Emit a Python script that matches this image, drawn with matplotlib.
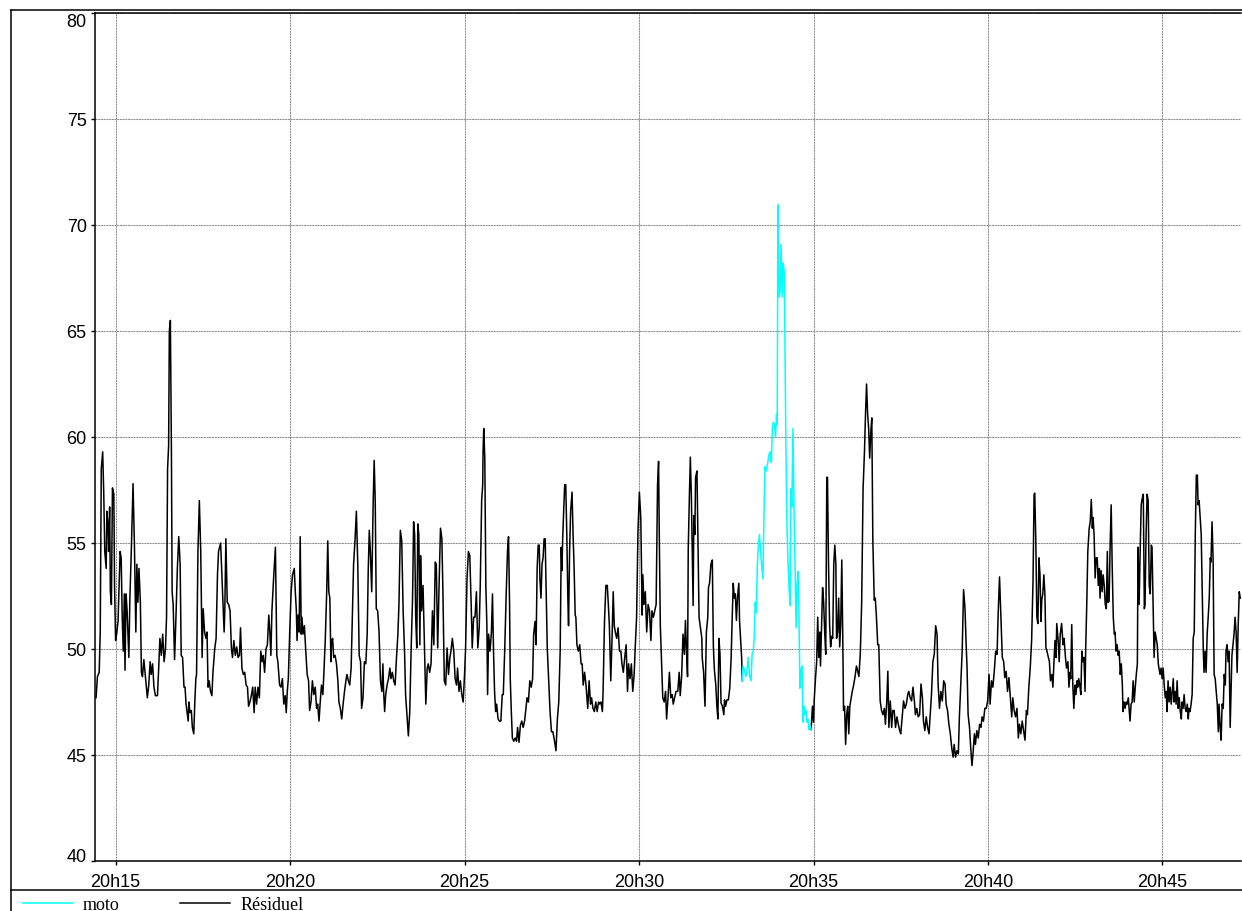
import numpy as np
import matplotlib
matplotlib.use("Agg")
import matplotlib.pyplot as plt
from matplotlib.lines import Line2D
from matplotlib.ticker import FuncFormatter, MultipleLocator

plt.rcParams['font.family'] = ['Liberation Sans', 'DejaVu Sans']

# time in minutes after 20h00, level in dB(A)
# residual noise before the motorbike pass
t_res_a = [
    14.44, 14.48, 14.53, 14.56, 14.59, 14.63, 14.66, 14.69, 14.73, 14.75,
    14.78, 14.80, 14.83, 14.85, 14.88, 14.91, 14.95, 14.97, 15.00, 15.03,
    15.07, 15.13, 15.16, 15.19, 15.22, 15.25, 15.27, 15.30, 15.33, 15.36,
    15.38, 15.41, 15.45, 15.50, 15.54, 15.58, 15.61, 15.64, 15.67, 15.71,
    15.74, 15.77, 15.81, 15.85, 15.91, 15.95, 15.99, 16.02, 16.06, 16.10,
    16.14, 16.20, 16.23, 16.27, 16.31, 16.35, 16.39, 16.43, 16.46, 16.49,
    16.52, 16.54, 16.57, 16.60, 16.62, 16.65, 16.69, 16.73, 16.77, 16.81,
    16.85, 16.88, 16.92, 16.96, 16.99, 17.02, 17.05, 17.08, 17.10, 17.13,
    17.17, 17.20, 17.24, 17.27, 17.30, 17.32, 17.36, 17.40, 17.44, 17.48,
    17.51, 17.55, 17.59, 17.62, 17.65, 17.68, 17.72, 17.76, 17.79, 17.84,
    17.88, 17.92, 17.95, 18.01, 18.05, 18.08, 18.11, 18.13, 18.16, 18.20,
    18.24, 18.28, 18.32, 18.35, 18.39, 18.43, 18.47, 18.51, 18.55, 18.58,
    18.62, 18.66, 18.70, 18.74, 18.78, 18.81, 18.85, 18.89, 18.93, 18.97,
    19.00, 19.04, 19.08, 19.12, 19.16, 19.20, 19.23, 19.27, 19.31, 19.35,
    19.39, 19.42, 19.45, 19.48, 19.51, 19.54, 19.58, 19.62, 19.65, 19.70,
    19.74, 19.78, 19.82, 19.86, 19.89, 19.92,
    19.95, 19.99, 20.03, 20.07, 20.12, 20.15, 20.18, 20.20, 20.23, 20.26,
    20.29, 20.32, 20.34, 20.37, 20.41, 20.45, 20.49, 20.53, 20.56, 20.60,
    20.64, 20.68, 20.72, 20.76, 20.79, 20.83, 20.86, 20.90, 20.94, 20.97,
    21.01, 21.05, 21.08, 21.11, 21.14, 21.17, 21.19, 21.22, 21.25, 21.29,
    21.33, 21.37, 21.40, 21.44, 21.48, 21.52, 21.56, 21.60, 21.63, 21.67,
    21.71, 21.75, 21.79, 21.82, 21.86, 21.90, 21.94, 21.98, 22.02, 22.05,
    22.09, 22.13, 22.17, 22.21, 22.24, 22.27, 22.30, 22.34, 22.38, 22.41,
    22.44, 22.47, 22.51, 22.55, 22.59, 22.63, 22.66, 22.68, 22.71, 22.74,
    22.78, 22.82, 22.86, 22.89, 22.93, 22.97, 23.01, 23.05, 23.09, 23.12,
    23.16, 23.20, 23.24, 23.28, 23.31, 23.35, 23.39, 23.43, 23.47, 23.51,
    23.54, 23.57, 23.60, 23.63, 23.66, 23.69, 23.72, 23.74, 23.77, 23.81,
    23.85, 23.89, 23.93, 23.96, 24.00, 24.04, 24.08, 24.12, 24.16, 24.19,
    24.23, 24.27, 24.31, 24.35, 24.38, 24.42, 24.46, 24.50, 24.54, 24.58,
    24.61, 24.65, 24.69, 24.73, 24.77, 24.80, 24.84, 24.88, 24.92, 24.96,
    25.00, 25.03, 25.07, 25.11, 25.15, 25.19, 25.22, 25.26, 25.30, 25.34,
    25.38, 25.42, 25.45, 25.49, 25.52,
    25.53, 25.55, 25.58, 25.61, 25.64, 25.66, 25.69, 25.73, 25.77, 25.80,
    25.83, 25.86, 25.89, 25.92, 25.96, 26.00, 26.04, 26.08, 26.11, 26.15,
    26.19, 26.23, 26.26, 26.29, 26.31, 26.34, 26.37, 26.41, 26.45, 26.49,
    26.52, 26.56, 26.60, 26.64, 26.68, 26.72, 26.75, 26.79, 26.83, 26.87,
    26.91, 26.95, 26.98, 27.02, 27.05, 27.08, 27.11, 27.14, 27.16, 27.19,
    27.22, 27.25, 27.28, 27.31, 27.34, 27.37, 27.41, 27.45, 27.49, 27.53,
    27.58, 27.62, 27.66, 27.70, 27.74, 27.77, 27.79, 27.81, 27.84, 27.87,
    27.90, 27.93, 27.96, 27.98, 28.01, 28.04, 28.08, 28.11, 28.14, 28.17,
    28.19, 28.22, 28.26, 28.30, 28.34, 28.37, 28.40, 28.44, 28.48, 28.53,
    28.57, 28.61, 28.64, 28.68, 28.72, 28.76, 28.80, 28.84, 28.87, 28.91,
    28.95, 28.97, 29.01, 29.05, 29.09, 29.12, 29.15, 29.19, 29.23, 29.26,
    29.29, 29.32, 29.36, 29.40, 29.44, 29.48, 29.51, 29.55, 29.59, 29.63,
    29.67, 29.70, 29.74, 29.78, 29.82, 29.86, 29.89, 29.93, 29.97, 30.01,
    30.05, 30.09, 30.11, 30.14, 30.18, 30.22, 30.26, 30.30, 30.34, 30.37,
    30.41, 30.45, 30.49, 30.53, 30.56, 30.58, 30.61, 30.64, 30.68, 30.72,
    30.76, 30.79, 30.83, 30.87, 30.91, 30.95, 30.98, 31.02, 31.06,
    31.11, 31.15, 31.18, 31.22, 31.26, 31.30, 31.33, 31.36, 31.39, 31.41,
    31.44, 31.47, 31.50, 31.53, 31.55, 31.57, 31.60, 31.62, 31.66, 31.69,
    31.72, 31.76, 31.80, 31.81, 31.85, 31.89, 31.93, 31.97, 31.99, 32.02,
    32.06, 32.10, 32.13, 32.16, 32.20, 32.23, 32.26, 32.29, 32.32, 32.35,
    32.39, 32.43, 32.45, 32.48, 32.52, 32.56, 32.60, 32.64, 32.67, 32.70,
    32.73, 32.76, 32.79, 32.82, 32.86, 32.88, 32.91, 32.94, 32.96,
]
lvl_res_a = [
    47.7, 48.7, 48.9, 50.8, 58.5, 59.3, 57.4, 54.6, 53.8, 56.5,
    55.9, 54.6, 56.7, 52.7, 52.1, 57.6, 57.3, 53.0, 50.4, 50.7,
    51.3, 54.6, 54.3, 51.5, 49.9, 52.6, 49.0, 52.6, 51.8, 50.5,
    49.6, 52.4, 54.6, 57.8, 54.9, 50.8, 54.0, 52.2, 53.8, 52.2,
    48.9, 48.7, 49.5, 48.8, 47.7, 48.3, 49.4, 48.8, 49.3, 48.2,
    47.8, 47.8, 48.9, 50.5, 49.7, 50.7, 49.4, 50.0, 51.5, 58.5,
    59.6, 65.0, 65.5, 59.3, 52.7, 52.1, 49.5, 51.5, 53.8, 55.3,
    54.0, 49.7, 49.6, 48.2, 48.2, 47.4, 47.0, 46.6, 47.5, 47.0,
    47.1, 46.3, 46.0, 47.5, 48.6, 48.8, 54.6, 57.0, 54.6, 49.6,
    51.9, 50.8, 50.5, 50.8, 48.2, 48.5, 48.0, 47.8, 48.9, 50.0,
    50.5, 53.5, 54.6, 55.0, 53.3, 52.1, 50.8, 51.8, 55.2, 52.2,
    52.1, 51.8, 50.0, 49.6, 50.4, 49.7, 50.1, 49.6, 49.7, 51.0,
    49.1, 48.8, 48.9, 48.3, 48.2, 47.3, 47.5, 47.8, 48.2, 47.0,
    48.2, 47.4, 48.2, 47.7, 49.9, 49.4, 49.7, 48.9, 50.0, 50.2,
    51.6, 50.8, 49.7, 51.8, 52.8, 53.7, 54.8, 49.7, 49.4, 48.3,
    48.2, 48.6, 47.4, 47.8, 47.0, 48.0,
    48.6, 50.8, 52.7, 53.5, 53.8, 52.7, 51.8, 50.4, 51.6, 50.8,
    55.3, 50.7, 51.5, 50.7, 51.1, 49.9, 48.8, 48.5, 47.1, 47.5,
    48.5, 47.85, 48.2, 47.2, 47.4, 46.6, 47.4, 48.3, 47.85, 48.9,
    50.5, 52.7, 55.1, 52.7, 52.4, 49.4, 50.4, 50.5, 49.6, 49.7,
    49.3, 48.5, 47.5, 47.2, 46.7, 47.4, 48.0, 48.5, 48.8, 48.5,
    48.3, 49.1, 51.9, 54.0, 55.1, 56.5, 54.0, 49.7, 49.4, 47.2,
    47.7, 49.4, 49.3, 50.7, 53.7, 55.6, 54.6, 52.7, 56.8, 58.9,
    57.0, 51.9, 51.8, 50.8, 48.5, 48.0, 49.3, 48.0, 47.05, 47.85,
    48.3, 48.6, 49.1, 48.6, 48.9, 48.5, 48.3, 49.6, 50.7, 52.1,
    55.6, 55.1, 51.8, 49.9, 47.85, 46.9, 45.9, 47.05, 50.05, 52.4,
    56.0, 55.4, 51.5, 50.05, 55.9, 55.4, 50.2, 54.4, 51.8, 53.0,
    50.2, 47.4, 49.1, 49.3, 48.9, 49.3, 51.8, 50.2, 54.1, 54.0,
    50.05, 53.0, 55.7, 55.2, 52.7, 48.5, 48.3, 50.05, 48.8, 49.6,
    49.9, 50.5, 49.9, 48.6, 48.3, 49.1, 48.0, 48.5, 47.85, 47.5,
    48.8, 50.05, 53.3, 54.6, 54.4, 52.1, 50.05, 51.5, 51.5, 52.7,
    50.05, 51.0, 53.0, 57.0, 57.75,
    59.3, 60.4, 59.0, 53.0, 51.1, 47.85, 50.7, 49.9, 50.8, 52.6,
    49.9, 48.0, 47.05, 47.4, 46.7, 46.6, 46.6, 47.85, 47.85, 49.9,
    52.4, 54.6, 55.3, 52.1, 48.6, 47.05, 45.8, 45.65, 45.8, 45.65,
    46.3, 45.6, 46.4, 46.6, 46.3, 46.6, 47.05, 47.7, 47.5, 48.5,
    48.2, 48.6, 50.7, 51.3, 50.2, 53.8, 54.9, 54.9, 53.3, 52.4,
    54.0, 54.3, 55.2, 55.2, 52.7, 50.05, 48.5, 47.05, 46.1, 46.1,
    45.65, 45.2, 46.7, 47.5, 49.9, 54.8, 53.7, 55.1, 56.5, 57.75,
    57.75, 55.4, 52.4, 51.1, 54.6, 56.5, 57.4, 55.4, 53.8, 51.6,
    51.5, 50.2, 49.9, 50.2, 49.3, 49.3, 48.3, 48.9, 48.3, 47.2,
    48.5, 47.4, 47.7, 47.2, 47.05, 47.5, 47.05, 47.5, 47.4, 47.5,
    47.05, 48.0, 51.3, 53.0, 53.0, 52.1, 51.1, 48.5, 50.7, 52.7,
    51.1, 50.8, 50.5, 51.0, 49.9, 49.9, 49.3, 48.9, 49.6, 50.2,
    48.0, 49.3, 48.6, 49.3, 48.0, 48.8, 50.05, 51.5, 55.6, 57.4,
    56.2, 51.6, 53.5, 52.1, 52.7, 50.8, 52.1, 51.8, 50.4, 51.8,
    51.5, 51.8, 52.1, 57.75, 58.85, 55.4, 51.1, 49.6, 47.7, 47.5,
    48.0, 46.7, 47.7, 48.9, 47.7, 47.85, 47.4, 47.7, 48.0,
    48.0, 48.9, 47.8, 48.7, 50.7, 49.75, 51.35, 49.9, 48.7, 54.7,
    57.0, 59.05, 57.2, 54.0, 52.05, 56.3, 55.4, 58.1, 58.4, 54.9,
    51.5, 51.0, 50.5, 49.6, 48.9, 47.3, 50.8, 51.5, 52.9, 53.1,
    54.0, 54.2, 50.1, 49.0, 48.3, 47.3, 46.7, 50.5, 49.75, 47.45,
    47.3, 46.9, 47.6, 47.3, 47.6, 47.6, 48.15, 49.6, 51.5, 53.1,
    52.4, 52.6, 51.35, 52.4, 53.1, 51.35, 50.5, 49.6, 48.5,
]

# motorbike pass
t_moto = [
    32.96, 32.98, 33.02, 33.06, 33.09, 33.13, 33.17, 33.21, 33.24, 33.27,
    33.30, 33.33, 33.36, 33.39, 33.42, 33.45, 33.48, 33.51, 33.55, 33.58,
    33.61, 33.65, 33.69, 33.72, 33.76, 33.79, 33.82, 33.85, 33.88, 33.91,
    33.94, 33.96, 33.98, 34.01, 34.04, 34.07, 34.10, 34.13, 34.16, 34.18,
    34.21, 34.24, 34.27, 34.30, 34.33, 34.35, 34.38, 34.41, 34.44, 34.47,
    34.50, 34.53, 34.56, 34.58, 34.61, 34.64, 34.67, 34.70, 34.73, 34.76,
    34.78, 34.81, 34.84, 34.87, 34.90, 34.93,
]
lvl_moto = [
    48.5, 49.2, 49.0, 48.7, 48.9, 49.6, 48.7, 48.5, 49.75, 49.9,
    50.5, 52.2, 51.7, 54.0, 54.9, 55.4, 54.7, 54.0, 53.3, 56.3,
    58.6, 58.4, 58.8, 59.15, 59.3, 58.8, 60.4, 60.7, 60.6, 60.0,
    61.1, 60.6, 70.95, 66.6, 66.8, 69.1, 66.6, 68.2, 67.8, 64.65,
    59.3, 55.8, 54.0, 52.9, 52.05, 57.55, 56.7, 60.4, 56.7, 54.0,
    51.0, 53.1, 53.65, 51.9, 48.15, 49.0, 49.2, 46.55, 47.3, 46.9,
    47.1, 46.55, 46.7, 46.2, 46.4, 46.2,
]

# residual noise after the motorbike pass
t_res_b = [
    34.93, 34.97, 35.00, 35.02, 35.06, 35.09, 35.12, 35.15, 35.18, 35.20,
    35.23, 35.26, 35.29, 35.32, 35.35, 35.38, 35.40, 35.43, 35.46, 35.49,
    35.52, 35.55, 35.58, 35.61, 35.64, 35.66, 35.69, 35.72, 35.75, 35.78,
    35.81, 35.84, 35.86, 35.89, 35.92, 35.95, 35.98, 36.01, 36.04, 36.07,
    36.11, 36.15, 36.19, 36.23, 36.26, 36.30, 36.34, 36.38, 36.42, 36.46,
    36.49, 36.52, 36.55, 36.58, 36.61, 36.64, 36.67,
    36.70, 36.74, 36.77, 36.80, 36.84, 36.87, 36.91, 36.95, 36.99, 37.03,
    37.06, 37.10, 37.13, 37.16, 37.20, 37.24, 37.27, 37.31, 37.35, 37.39,
    37.43, 37.47, 37.50, 37.54, 37.58, 37.62, 37.66, 37.70, 37.73, 37.77,
    37.81, 37.85, 37.89, 37.92, 37.96, 38.00, 38.04, 38.08, 38.12, 38.15,
    38.19, 38.23, 38.27, 38.31, 38.35, 38.38, 38.42, 38.46, 38.50, 38.54,
    38.57, 38.61, 38.65, 38.69, 38.73, 38.77, 38.80, 38.84, 38.88, 38.92,
    38.96, 39.00, 39.03, 39.07, 39.11, 39.15, 39.18, 39.22, 39.26, 39.30,
    39.34, 39.37, 39.40, 39.43, 39.47, 39.51, 39.54, 39.57, 39.61, 39.64,
    39.68, 39.72, 39.76, 39.80, 39.83, 39.87, 39.91, 39.95, 39.99, 40.03,
    40.06, 40.10, 40.14, 40.18, 40.22, 40.26, 40.29, 40.33, 40.37, 40.41,
    40.45, 40.48, 40.52, 40.56, 40.60, 40.64, 40.68, 40.71, 40.75, 40.79,
    40.83, 40.87, 40.90, 40.94, 40.98, 41.02, 41.06, 41.10, 41.13, 41.17,
    41.21, 41.25, 41.29, 41.32, 41.34, 41.37, 41.40, 41.43, 41.46, 41.49,
    41.52, 41.54, 41.57, 41.60, 41.63, 41.66, 41.69, 41.73, 41.76, 41.79,
    41.83, 41.86, 41.89, 41.92, 41.95, 41.97, 42.01, 42.04, 42.07, 42.11,
    42.15, 42.18, 42.22, 42.25,
    42.29, 42.32, 42.35, 42.37, 42.40, 42.43, 42.46, 42.49, 42.52, 42.55,
    42.57, 42.60, 42.63, 42.66, 42.69, 42.72, 42.75, 42.78, 42.80, 42.83,
    42.86, 42.90, 42.93, 42.96, 42.99, 43.01, 43.04, 43.07, 43.10, 43.13,
    43.16, 43.19, 43.21, 43.24, 43.27, 43.30, 43.33, 43.36, 43.39, 43.42,
    43.44, 43.47, 43.50, 43.53, 43.56, 43.59, 43.62, 43.64, 43.67, 43.70,
    43.73, 43.76, 43.79, 43.82, 43.85, 43.87, 43.90, 43.93, 43.96, 43.99,
    44.02, 44.05, 44.07, 44.10, 44.13, 44.16, 44.19, 44.22, 44.25, 44.28,
    44.30, 44.33, 44.36, 44.39, 44.42, 44.45, 44.48, 44.50, 44.53, 44.56,
    44.59, 44.62, 44.65, 44.68, 44.70, 44.73, 44.76, 44.79, 44.82, 44.85,
    44.88, 44.90, 44.93, 44.96, 44.99, 45.02, 45.05, 45.08, 45.11, 45.13,
    45.16, 45.19, 45.22, 45.25, 45.28, 45.31, 45.33, 45.36, 45.39, 45.42,
    45.45, 45.48, 45.51, 45.54, 45.56, 45.59, 45.62, 45.65, 45.68, 45.71,
    45.74, 45.76, 45.79, 45.82, 45.85, 45.88, 45.91, 45.94, 45.97, 46.00,
    46.02, 46.05, 46.08, 46.11, 46.14, 46.17, 46.19, 46.22, 46.25, 46.28,
    46.31, 46.34, 46.37, 46.39, 46.42, 46.45, 46.48, 46.51, 46.54, 46.57,
    46.60, 46.62, 46.65, 46.68, 46.71, 46.74, 46.77, 46.80, 46.82, 46.85,
    46.88, 46.91, 46.94, 46.97, 46.99, 47.02, 47.05, 47.08, 47.11, 47.14,
    47.17, 47.20, 47.23,
]
lvl_res_b = [
    46.2, 47.3, 46.55, 47.6, 48.7, 49.4, 51.5, 49.6, 50.8, 49.2,
    51.0, 52.9, 52.2, 50.8, 49.75, 58.1, 58.1, 54.0, 51.2, 50.1,
    50.6, 50.5, 54.0, 54.9, 54.0, 50.5, 50.8, 52.4, 50.1, 51.2,
    54.2, 50.3, 47.1, 47.3, 45.5, 46.9, 47.3, 46.0, 47.3, 47.6,
    48.0, 48.3, 48.7, 49.2, 49.0, 48.7, 49.75, 52.2, 57.55, 59.3,
    61.1, 62.5, 61.1, 60.4, 59.0, 60.2, 60.9,
    55.1, 52.3, 52.4, 51.6, 50.2, 50.2, 47.55, 47.1, 46.9, 47.2,
    46.45, 47.55, 48.95, 46.3, 47.55, 46.3, 47.1, 47.1, 46.3, 46.8,
    46.45, 46.15, 46.0, 46.8, 47.55, 47.2, 47.4, 47.85, 48.0, 47.7,
    47.55, 48.2, 47.55, 46.9, 47.2, 46.8, 46.9, 48.35, 47.7, 46.6,
    46.15, 46.8, 46.3, 46.0, 47.1, 47.85, 49.4, 49.75, 51.1, 50.7,
    48.35, 47.2, 48.0, 47.55, 48.5, 48.35, 47.4, 47.1, 46.45, 46.0,
    45.35, 44.9, 45.5, 44.9, 45.2, 45.05, 46.8, 48.35, 49.9, 52.8,
    51.95, 50.4, 49.1, 46.9, 46.3, 45.2, 44.5, 45.05, 46.0, 45.5,
    46.15, 45.8, 46.45, 46.3, 46.8, 46.6, 47.2, 47.2, 47.55, 48.8,
    47.4, 48.5, 48.2, 48.95, 49.9, 49.75, 51.6, 53.4, 51.5, 49.6,
    49.4, 48.65, 48.95, 48.0, 48.65, 47.7, 46.8, 47.7, 47.1, 46.8,
    47.2, 45.8, 46.45, 46.0, 46.6, 46.15, 45.7, 47.1, 46.9, 48.2,
    49.1, 50.4, 53.2, 57.3, 57.35, 55.1, 51.5, 51.2, 54.3, 53.5,
    51.3, 52.3, 52.6, 53.5, 52.6, 50.05, 49.9, 49.6, 49.4, 48.5,
    48.8, 48.2, 49.4, 50.4, 49.6, 51.2, 50.4, 49.4, 50.7, 51.2,
    50.2, 50.5, 49.6, 49.1,
    49.4, 48.2, 48.9, 48.6, 51.15, 48.3, 47.2, 48.3, 47.85, 48.5,
    48.2, 48.6, 48.3, 47.85, 49.9, 49.4, 49.6, 48.0, 50.05, 52.1,
    54.6, 55.7, 56.0, 57.05, 55.7, 56.2, 55.4, 53.35, 54.3, 54.3,
    53.0, 53.8, 52.4, 53.7, 52.7, 53.5, 53.0, 52.1, 51.9, 54.6,
    52.2, 52.25, 54.9, 56.8, 53.8, 51.5, 50.7, 50.8, 49.9, 50.2,
    49.7, 49.9, 48.8, 49.3, 48.3, 47.05, 47.5, 47.2, 47.5, 47.4,
    47.7, 47.05, 46.6, 47.4, 47.5, 48.5, 47.5, 48.2, 48.8, 49.3,
    54.8, 52.1, 54.6, 56.8, 57.1, 57.3, 51.9, 52.1, 55.4, 57.3,
    57.0, 53.0, 52.6, 54.9, 54.8, 52.25, 49.6, 50.8, 50.5, 50.2,
    49.3, 49.1, 48.8, 49.1, 48.6, 49.1, 48.3, 47.7, 48.0, 47.05,
    48.5, 47.5, 48.2, 47.4, 48.0, 48.6, 47.5, 48.0, 47.4, 48.5,
    47.2, 47.7, 47.05, 46.7, 47.5, 47.2, 47.85, 47.2, 47.05, 47.4,
    46.7, 47.2, 47.05, 47.4, 47.85, 50.5, 50.8, 55.4, 58.2, 58.2,
    56.8, 57.0, 56.2, 55.4, 52.7, 49.9, 48.9, 49.9, 48.9, 50.7,
    51.5, 52.4, 54.3, 54.1, 56.0, 54.3, 48.8, 48.6, 48.0, 47.4,
    46.1, 47.4, 46.4, 45.7, 47.4, 47.2, 48.8, 48.3, 49.9, 50.2,
    49.4, 49.9, 46.3, 48.3, 49.7, 50.2, 50.7, 51.5, 50.8, 48.9,
    51.15, 52.7, 52.4,
]

W, H = 1242, 912
fig = plt.figure(figsize=(W / 100, H / 100), dpi=100)
ax = fig.add_axes([95 / W, 1 - 862 / H, (1241 - 95) / W, (862 - 14) / H])

ax.plot(t_res_a, lvl_res_a, color='black', lw=1.1)
ax.plot(t_res_b, lvl_res_b, color='black', lw=1.1)
ax.plot(t_moto, lvl_moto, color='#00ffff', lw=1.1)

ax.set_xlim(14.41, 47.25)
ax.set_ylim(40, 80)
ax.xaxis.set_major_locator(MultipleLocator(5))
ax.set_yticks(np.arange(40, 81, 5))
ax.xaxis.set_major_formatter(FuncFormatter(lambda m, _: "20h%02d" % int(round(m))))
ax.grid(True, color='#909090', lw=0.75, linestyle=(0, (2, 0.6)))
ax.set_axisbelow(True)

for side in ('left', 'bottom', 'top'):
    ax.spines[side].set_linewidth(1.1)
ax.spines['right'].set_visible(False)
ax.tick_params(axis='both', direction='out', length=3, width=1, labelsize=13)
ax.tick_params(axis='y', pad=3)
ax.tick_params(axis='x', pad=6)

# keep the end labels inside the frame
yticks = ax.yaxis.get_major_ticks()
yticks[0].label1.set_va('baseline')
yticks[-1].label1.set_va('top')


# outer frame and legend strip, in pixel positions
def fig_line(x0, y0, x1, y1, lw=1.1, color='black'):
    fig.add_artist(Line2D([x0 / W, x1 / W], [1 - y0 / H, 1 - y1 / H],
                          color=color, lw=lw, transform=fig.transFigure))


fig_line(11, 10.5, 11, H)
fig_line(11, 10.5, W, 10.5)
fig_line(11, 891, W, 891)

# legend entries
serif = ['Liberation Serif', 'DejaVu Serif']
fig_line(23, 904, 73, 904, lw=1.1, color='#00ffff')
fig.text(83 / W, 1 - 910.5 / H, "moto", family=serif, fontsize=13,
         va='baseline', ha='left')
fig_line(180, 904, 230, 904, lw=1.1)
fig.text(241 / W, 1 - 910.5 / H, "Résiduel", family=serif, fontsize=13,
         va='baseline', ha='left')

fig.savefig("out.png", dpi=100)
